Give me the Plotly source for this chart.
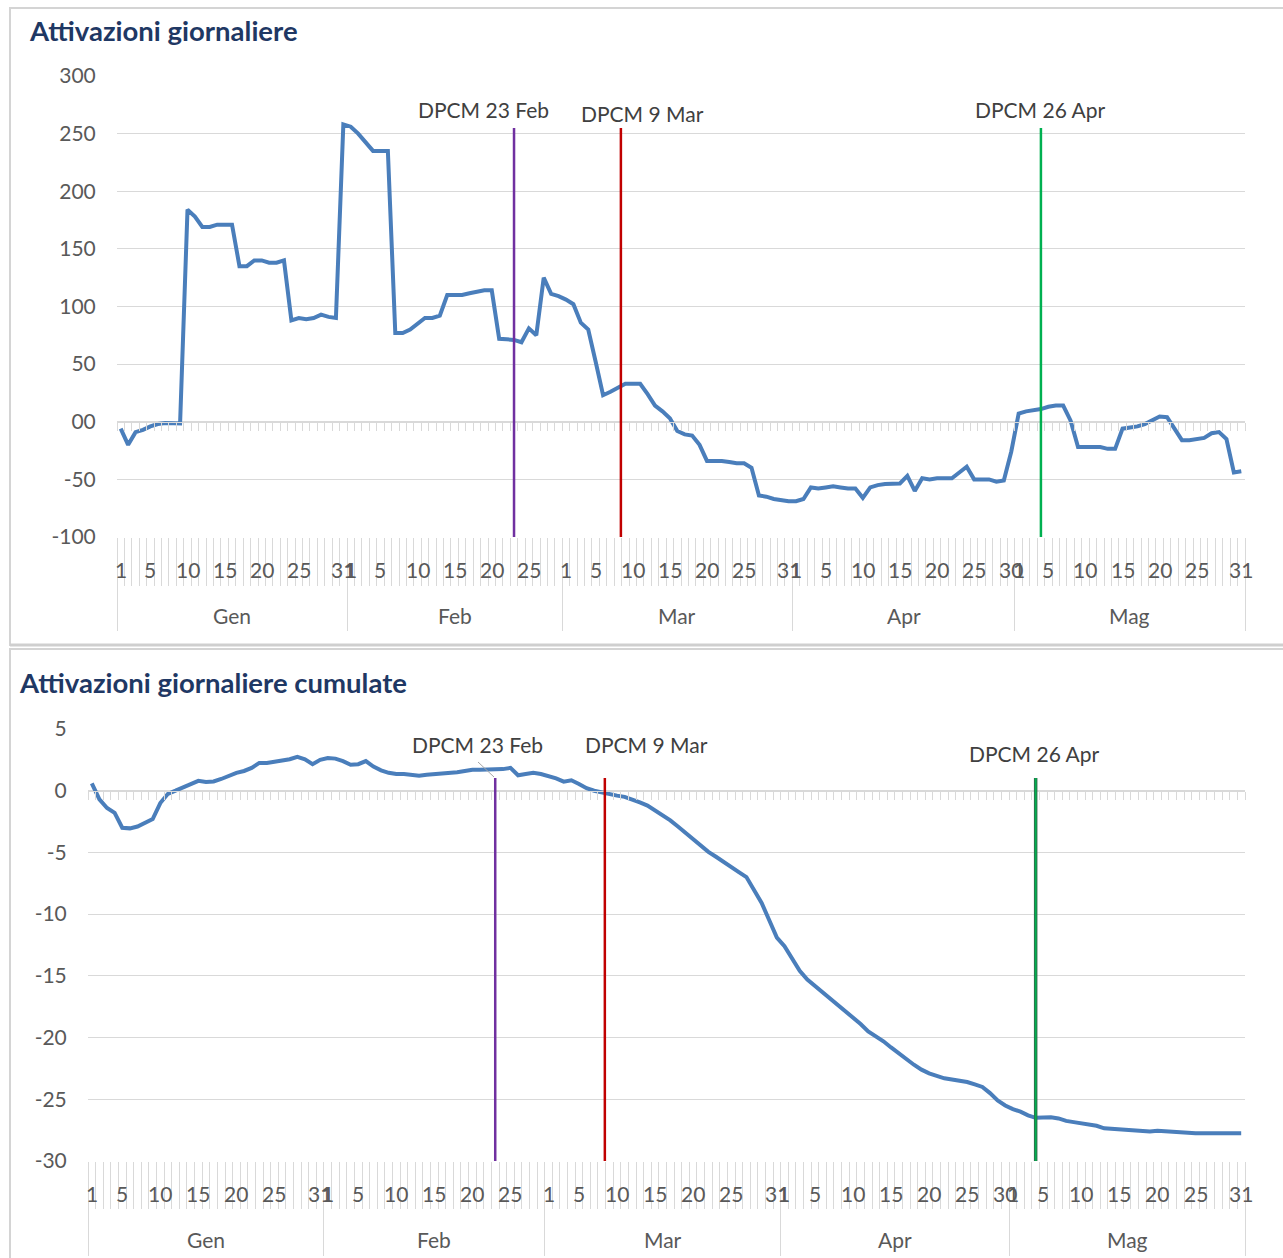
import plotly.graph_objects as go
import numpy as np

# ---------------- DATA ----------------
months = ["Gen", "Feb", "Mar", "Apr", "Mag"]
month_days = [31, 29, 31, 30, 31]
day_ticks = [
    [1, 5, 10, 15, 20, 25, 31],
    [1, 5, 10, 15, 20, 25],
    [1, 5, 10, 15, 20, 25, 31],
    [1, 5, 10, 15, 20, 25, 30],
    [1, 5, 10, 15, 20, 25, 31],
]

daily = [
    # Gen
    -6, -20, -9, -7, -4, -2, -1, -1, -1.5, 184, 178, 169, 169, 171, 171, 171,
    135, 135, 140, 140, 138, 138, 140, 88, 90, 89, 90, 93, 91, 90, 258,
    # Feb
    256, 250, 242, 235, 235, 235, 77, 77, 80, 85, 90, 90, 92, 110, 110, 110,
    111.5, 113, 114, 114, 72, 71.5, 71, 69, 81, 75, 125, 111, 109,
    # Mar
    106, 102, 86, 80, 52, 23, 26, 30, 33, 33, 33, 24, 14, 9, 3, -8, -11, -12,
    -20, -34, -34, -34, -35, -36, -36, -40, -64, -65, -67, -68, -69,
    # Apr
    -69, -67, -57, -58, -57, -56, -57, -58, -58, -66, -57, -55, -54, -53.5,
    -53.5, -47, -60, -49, -50, -49, -49, -49, -44, -39, -50, -50, -50, -52,
    -51, -26,
    # Mag
    7, 9, 10, 11, 13, 14, 14, 1, -22, -22, -22, -22, -23.5, -23.5, -6, -5,
    -4, -2, 1, 4.5, 4, -6, -16, -16, -15, -14, -10, -9, -15, -44, -43,
]

cumulative = [
    # Gen
    0.6, -0.7, -1.4, -1.8, -3.0, -3.05, -2.9, -2.6, -2.3, -1.0, -0.25, 0.0,
    0.25, 0.5, 0.8, 0.7, 0.75, 0.95, 1.2, 1.45, 1.6, 1.85, 2.25, 2.25, 2.35,
    2.45, 2.55, 2.75, 2.55, 2.15, 2.5,
    # Feb
    2.65, 2.6, 2.4, 2.1, 2.15, 2.4, 1.95, 1.65, 1.45, 1.35, 1.35, 1.3, 1.22,
    1.3, 1.35, 1.35, 1.45, 1.5, 1.6, 1.7, 1.7, 1.7, 1.7, 1.75, 1.85, 1.25,
    1.35, 1.45, 1.35,
    # Mar
    1.2, 1.0, 0.73, 0.85, 0.55, 0.2, 0.0, -0.15, -0.3, -0.4, -0.5, -0.7,
    -0.95, -1.2, -1.6, -2.0, -2.4, -2.9, -3.4, -3.95, -4.5, -4.95, -5.35,
    -5.8, -6.2, -6.6, -7.0, -8.0, -9.1, -10.5, -11.9,
    # Apr
    -12.6, -13.6, -14.6, -15.3, -15.8, -16.3, -16.8, -17.3, -17.8, -18.4,
    -18.9, -19.5, -19.9, -20.3, -20.8, -21.3, -21.8, -22.2, -22.6, -22.9,
    -23.1, -23.3, -23.4, -23.5, -23.6, -23.8, -24.0, -24.5, -25.1, -25.5,
    # Mag
    -25.8, -26.0, -26.3, -26.5, -26.45, -26.45, -26.55, -26.75, -26.85,
    -26.95, -27.05, -27.15, -27.35, -27.4, -27.45, -27.5, -27.5, -27.6,
    -27.6, -27.55, -27.6, -27.65, -27.7, -27.7, -27.75, -27.75, -27.75,
    -27.75, -27.75, -27.75, -27.75,
]

event_labels = ["DPCM 23 Feb", "DPCM 9 Mar", "DPCM 26 Apr"]
event_pos = [53, 67.4, 124]          # category position of each marker line
event_colors = ["#7030a0", "#c00000", "#00b050"]

top_yvals = [-100, -50, 0, 50, 100, 150, 200, 250, 300]
top_ytext = ["-100", "-50", "00", "50", "100", "150", "200", "250", "300"]
bot_yvals = [-30, -25, -20, -15, -10, -5, 0, 5]
bot_ytext = ["-30", "-25", "-20", "-15", "-10", "-5", "0", "5"]

# ---------------- LAYOUT HELPERS ----------------
W, H = 1283, 1258
def fx(px): return px / W
def fy(py): return 1 - py / H

TOP = dict(x0=117, x1=1245, yt=76, yb=537, vmin=-100, vmax=300)
BOT = dict(x0=88, x1=1245, yt=729, yb=1161, vmin=-30, vmax=5)
def v2py(v, c):
    return c["yb"] - (v - c["vmin"]) / (c["vmax"] - c["vmin"]) * (c["yb"] - c["yt"])

N = sum(month_days)
idx = list(range(N))
starts = np.cumsum([0] + month_days[:-1])
bounds = [-0.5] + [float(s + d) - 0.5 for s, d in zip(starts, month_days)]
XR = [-0.5, N - 0.5]

FONT = "Lato"
GRAY = "#595959"
GRID = "#d9d9d9"
LINE_COL = "#4a7ebb"

fig = go.Figure()
fig.add_trace(go.Scatter(x=idx, y=daily, mode="lines", xaxis="x", yaxis="y",
                         line=dict(color=LINE_COL, width=4), showlegend=False,
                         hoverinfo="skip"))
fig.add_trace(go.Scatter(x=idx, y=cumulative, mode="lines", xaxis="x2", yaxis="y2",
                         line=dict(color=LINE_COL, width=4), showlegend=False,
                         hoverinfo="skip"))
# invisible anchors for overlay axes
for xa, ya in [("x3", "y"), ("x4", "y"), ("x5", "y"), ("x6", "y2"), ("x7", "y2"), ("x8", "y2")]:
    fig.add_trace(go.Scatter(x=[0], y=[None], xaxis=xa, yaxis=ya, mode="markers",
                             marker=dict(opacity=0), showlegend=False, hoverinfo="skip"))

def base_x(domain):
    return dict(domain=domain, range=XR, showticklabels=False, ticks="",
                showgrid=False, zeroline=False, showline=False, fixedrange=True,
                automargin=False)

def overlay_x(over, domain, pos, ticklen, tickvals=None, showline=False):
    d = dict(overlaying=over, anchor="free", position=pos, side="bottom",
             domain=domain, range=XR, showticklabels=False, ticks="outside",
             ticklen=ticklen, tickcolor=GRID, tickwidth=1, showgrid=False,
             zeroline=False, showline=showline, linecolor=GRID, linewidth=1,
             automargin=False)
    if tickvals is None:
        d.update(tickmode="linear", tick0=-0.5, dtick=1)
    else:
        d.update(tickmode="array", tickvals=tickvals)
    return d

def y_axis(c, anchor, tv, tt):
    return dict(domain=[fy(c["yb"]), fy(c["yt"])], range=[c["vmin"], c["vmax"]],
                anchor=anchor, tickmode="array", tickvals=tv, ticktext=tt,
                showgrid=True, gridcolor=GRID, gridwidth=1, zeroline=False,
                showline=False, ticks="outside", ticklen=16,
                tickcolor="rgba(0,0,0,0)", automargin=False,
                tickfont=dict(family=FONT, size=21, color=GRAY), fixedrange=True)

dt = [fx(TOP["x0"]), fx(TOP["x1"])]
db = [fx(BOT["x0"]), fx(BOT["x1"])]

layout = dict(
    width=W, height=H, margin=dict(l=0, r=0, t=0, b=0, autoexpand=False),
    paper_bgcolor="white", plot_bgcolor="white", showlegend=False,
    xaxis=dict(base_x(dt), anchor="y"),
    yaxis=y_axis(TOP, "x", top_yvals, top_ytext),
    xaxis2=dict(base_x(db), anchor="y2"),
    yaxis2=y_axis(BOT, "x2", bot_yvals, bot_ytext),
    xaxis3=overlay_x("x", dt, fy(v2py(0, TOP)), 8, showline=True),
    xaxis4=overlay_x("x", dt, fy(TOP["yb"]), 48),
    xaxis5=overlay_x("x", dt, fy(TOP["yb"]), 93, tickvals=bounds),
    xaxis6=overlay_x("x2", db, fy(v2py(0, BOT)), 8, showline=True),
    xaxis7=overlay_x("x2", db, fy(BOT["yb"]), 47, tickvals=None),
    xaxis8=overlay_x("x2", db, fy(BOT["yb"]), 94, tickvals=bounds),
)
fig.update_layout(**layout)

shapes = []
annotations = []

# panel frames
shapes.append(dict(type="rect", xref="paper", yref="paper", x0=fx(10), x1=fx(1300),
                   y0=fy(645), y1=fy(8), line=dict(color="#d4d4d4", width=2)))
shapes.append(dict(type="line", xref="paper", yref="paper", x0=fx(10), x1=fx(1300),
                   y0=fy(645), y1=fy(645), line=dict(color="#cfcfcf", width=3)))
shapes.append(dict(type="rect", xref="paper", yref="paper", x0=fx(10), x1=fx(1300),
                   y0=fy(1290), y1=fy(649), line=dict(color="#d4d4d4", width=2)))

# event marker lines
for c, xr, yr, top_px in [(TOP, "x", "y", 128), (BOT, "x2", "y2", 778)]:
    ytop = c["vmin"] + (c["yb"] - top_px) / (c["yb"] - c["yt"]) * (c["vmax"] - c["vmin"])
    for k, (p, col) in enumerate(zip(event_pos, event_colors)):
        if c is BOT and k == 2:
            shapes.append(dict(type="line", xref=xr, yref=yr, x0=p, x1=p, y0=c["vmin"],
                               y1=ytop, line=dict(color="#2e6e4a", width=3.5)))
            shapes.append(dict(type="line", xref=xr, yref=yr, x0=p, x1=p, y0=c["vmin"],
                               y1=ytop, line=dict(color="#00b050", width=1.6)))
        else:
            shapes.append(dict(type="line", xref=xr, yref=yr, x0=p, x1=p, y0=c["vmin"],
                               y1=ytop, line=dict(color=col, width=2.5)))

# leader line for bottom "DPCM 23 Feb"
shapes.append(dict(type="line", xref="paper", yref="paper", x0=fx(478), y0=fy(762),
                   x1=fx(494), y1=fy(777), line=dict(color="#a6a6a6", width=1)))

# titles
annotations.append(dict(text="<b>Attivazioni giornaliere</b>", xref="paper", yref="paper",
                        x=fx(27), y=fy(31), xanchor="left", yanchor="middle",
                        showarrow=False, font=dict(family=FONT, size=27.5, color="#1f3864")))
annotations.append(dict(text="<b>Attivazioni giornaliere cumulate</b>", xref="paper",
                        yref="paper", x=fx(17), y=fy(682), xanchor="left",
                        yanchor="middle", showarrow=False,
                        font=dict(family=FONT, size=27.5, color="#1f3864")))

# event labels (pixel centers)
top_lab = [(483, 110), (642, 113), (1040, 109)]
bot_lab = [(477, 744), (646, 744), (1034, 753)]
for lbl, (px, py) in zip(event_labels, top_lab):
    annotations.append(dict(text=lbl, xref="paper", yref="paper", x=fx(px), y=fy(py),
                            xanchor="center", yanchor="middle", showarrow=False,
                            font=dict(family=FONT, size=21, color="#404040")))
for lbl, (px, py) in zip(event_labels, bot_lab):
    annotations.append(dict(text=lbl, xref="paper", yref="paper", x=fx(px), y=fy(py),
                            xanchor="center", yanchor="middle", showarrow=False,
                            font=dict(family=FONT, size=21, color="#404040")))

# category labels
for xr, day_py, mon_py in [("x", 569, 615), ("x2", 1193, 1239)]:
    for m, (name, s, nd) in enumerate(zip(months, starts, month_days)):
        for d in day_ticks[m]:
            annotations.append(dict(text=str(d), xref=xr, yref="paper", x=int(s) + d - 1,
                                    y=fy(day_py), xanchor="center", yanchor="middle",
                                    showarrow=False,
                                    font=dict(family=FONT, size=21, color=GRAY)))
        annotations.append(dict(text=name, xref=xr, yref="paper",
                                x=(bounds[m] + bounds[m + 1]) / 2, y=fy(mon_py),
                                xanchor="center", yanchor="middle", showarrow=False,
                                font=dict(family=FONT, size=21, color=GRAY)))

fig.update_layout(shapes=shapes, annotations=annotations)
fig.write_html("out.html", config={"displayModeBar": False, "staticPlot": True},
               post_script="document.body.style.margin='0';document.body.style.overflow='hidden';")
